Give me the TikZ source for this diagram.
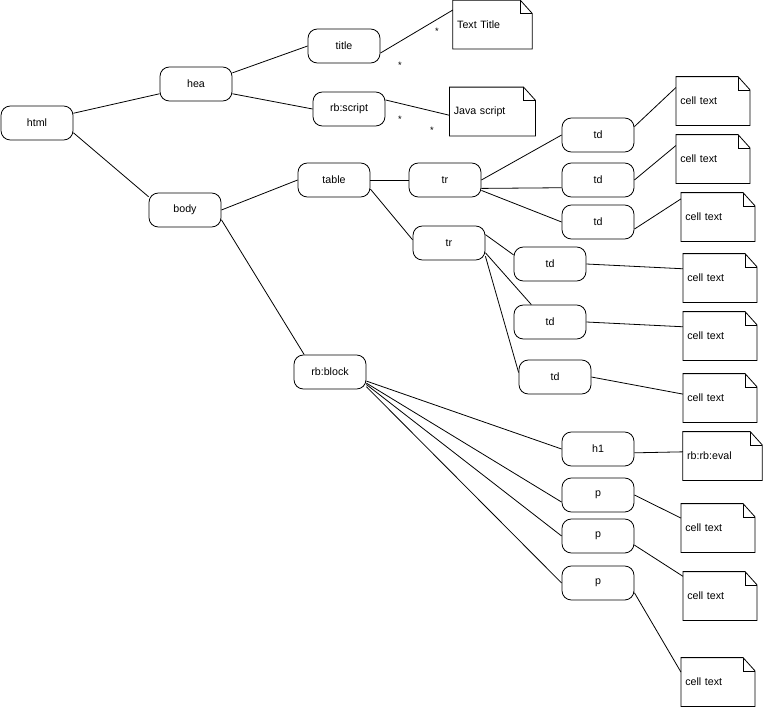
\documentclass[tikz,border=0pt]{standalone}
\usepackage{fontspec}
\setmainfont{Liberation Sans}
\usepackage{tikz}

\tikzset{
  elem/.style={draw, rounded corners=7pt, minimum width=54pt, minimum height=25.5pt, inner sep=1pt},
  cellnote/.style={inner xsep=3pt, inner ysep=0pt, text width=49pt, minimum height=36pt, align=left},
  mult/.style={font=\fontsize{7}{7}\selectfont, inner sep=0pt}
}
% note outline with folded corner
\newcommand{\dogear}[1]{%
  \draw (#1.north west) -- ([xshift=-9pt]#1.north east) -- ([yshift=-10pt]#1.north east) -- (#1.south east) -- (#1.south west) -- cycle;
  \draw ([xshift=-9pt]#1.north east) |- ([yshift=-10pt]#1.north east);}

\begin{document}
\begin{tikzpicture}[x=0.75pt,y=-0.75pt,line width=0.6pt,font=\fontsize{8}{10}\selectfont]
\useasboundingbox (0,0) rectangle (763,707);

% elements
\node[elem] (html) at (37,123) {html};
\node[elem] (hea) at (196,84) {hea};
\node[elem] (body) at (185,210) {body};
\node[elem] (title) at (344,46) {title};
\node[elem] (script) at (349,109) {rb:script};
\node[elem] (table) at (334,180) {table};
\node[elem] (tra) at (445,180) {tr};
\node[elem] (trb) at (449,243) {tr};
\node[elem] (tda) at (598,135) {td};
\node[elem] (tdb) at (598,180) {td};
\node[elem] (tdc) at (598,222) {td};
\node[elem] (tdd) at (550,264) {td};
\node[elem] (tde) at (550,322) {td};
\node[elem] (tdf) at (555,377) {td};
\node[elem] (block) at (330,372) {rb:block};
\node[elem] (hone) at (598,449) {h1};
\node[elem] (pa) at (598,495) {p};
\node[elem] (pb) at (598,536) {p};
\node[elem] (pc) at (598,583) {p};

% notes
\node[cellnote, text width=53pt] (ttltext) at (492.5,24.5) {Text Title};
\node[cellnote, text width=58pt] (jstext) at (492.5,111.5) {Java script};
\node[cellnote] (cella) at (713,101) {cell text};
\node[cellnote] (cellb) at (713,159) {cell text};
\node[cellnote] (cellc) at (718,217) {cell text};
\node[cellnote] (celld) at (720,278) {cell text};
\node[cellnote] (celle) at (720,336) {cell text};
\node[cellnote] (cellf) at (720,398) {cell text};
\node[cellnote, text width=53pt] (evaltext) at (722.5,456) {rb:rb:eval};
\node[cellnote] (cellg) at (718,528) {cell text};
\node[cellnote] (cellh) at (720,596) {cell text};
\node[cellnote] (celli) at (718,682) {cell text};
\foreach \n in {ttltext,jstext,cella,cellb,cellc,celld,celle,cellf,evaltext,cellg,cellh,celli}
  \dogear{\n};

% multiplicities
\node[mult] (sa) at (437,31) {*};
\node[mult] (sb) at (400,65) {*};
\node[mult] (sc) at (400,119) {*};
\node[mult] (sd) at (432,130) {*};

% links
\draw (html.15) -- (hea.195);
\draw (html.-15) -- (body.160);
\draw (hea.17) -- (title.west);
\draw (hea.-15) -- (script.west);
\draw (title.-11) -- (ttltext.160);
\draw (script.14) -- (jstext.185);
\draw (body.east) -- (table.west);
\draw (body.-15) -- (block.146);
\draw (table.east) -- (tra.west);
\draw (table.-14) -- (trb.175);
\draw (tra.east) -- (tda.west);
\draw (tra.-13) -- (tdb.192);
\draw (tra.-16) -- (tdc.west);
\draw (trb.13) -- (tdd.166);
\draw (trb.-15) -- (tde.137);
\draw (trb.-20) -- (tdf.173);
\draw (tda.13) -- (cella.160);
\draw (tdb.east) -- (cellb.160);
\draw (tdc.-11) -- (cellc.154);
\draw (tdd.east) -- (celld.166);
\draw (tde.east) -- (celle.166);
\draw (tdf.east) -- (cellf.174);
\draw (block.-14) -- (hone.west);
\draw (block.-17) -- (pa.191);
\draw (block.-19) -- (pb.west);
\draw (block.-22) -- (pc.west);
\draw (hone.-6) -- (evaltext.174);
\draw (pa.east) -- (cellg.165);
\draw (pb.-14) -- (cellh.152);
\draw (pc.-15) -- (celli.165);

\end{tikzpicture}
\end{document}
